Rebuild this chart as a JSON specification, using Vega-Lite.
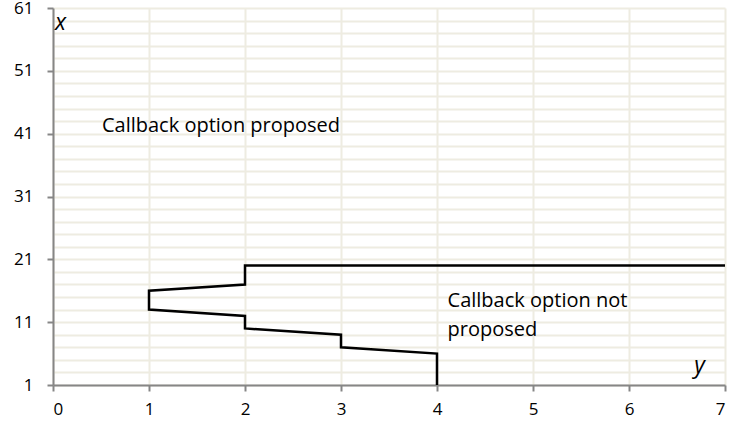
{
  "$schema": "https://vega.github.io/schema/vega-lite/v6.json",
  "width": 672,
  "height": 377,
  "autosize": "none",
  "padding": {"left": 53, "top": 8, "right": 6, "bottom": 40},
  "background": "white",
  "config": {
    "view": {"stroke": null},
    "font": "Open Sans",
    "axis": {
      "labelFont": "Open Sans",
      "labelFontSize": 17,
      "labelColor": "#000000",
      "labelOverlap": false,
      "domainColor": "#868686",
      "domainWidth": 2,
      "tickColor": "#868686",
      "tickWidth": 2,
      "tickSize": 6,
      "gridColor": "#EEECE1",
      "gridWidth": 2,
      "gridOpacity": 1,
      "title": null
    }
  },
  "datasets": {
    "curve": [
      {"ord": 1, "y": 4, "x": 1},
      {"ord": 2, "y": 4, "x": 6},
      {"ord": 3, "y": 3, "x": 7},
      {"ord": 4, "y": 3, "x": 9},
      {"ord": 5, "y": 2, "x": 10},
      {"ord": 6, "y": 2, "x": 12},
      {"ord": 7, "y": 1, "x": 13},
      {"ord": 8, "y": 1, "x": 16},
      {"ord": 9, "y": 2, "x": 17},
      {"ord": 10, "y": 2, "x": 20},
      {"ord": 11, "y": 7, "x": 20}
    ],
    "labels": [
      {"y": 0.51, "x": 42.2, "label": "Callback option proposed"},
      {"y": 4.11, "x": 14.3, "label": "Callback option not"},
      {"y": 4.11, "x": 9.8, "label": "proposed"}
    ],
    "axisnames": [
      {"y": 0.02, "x": 58.6, "label": "x"},
      {"y": 6.68, "x": 4.1, "label": "y"}
    ]
  },
  "encoding": {
    "x": {
      "field": "y", "type": "quantitative",
      "scale": {"domain": [0, 7], "nice": false, "zero": false},
      "axis": {"values": [0, 1, 2, 3, 4, 5, 6, 7], "labelPadding": 10, "format": "d"}
    },
    "y": {
      "field": "x", "type": "quantitative",
      "scale": {"domain": [1, 61], "nice": false, "zero": false},
      "axis": {
        "values": [1, 3, 5, 7, 9, 11, 13, 15, 17, 19, 21, 23, 25, 27, 29, 31, 33, 35, 37, 39, 41, 43, 45, 47, 49, 51, 53, 55, 57, 59, 61],
        "labelExpr": "(datum.value - 1) % 10 == 0 ? datum.label : ''",
        "tickOpacity": {"condition": {"test": "(datum.value - 1) % 10 == 0", "value": 1}, "value": 0},
        "labelPadding": 14,
        "format": "d"
      }
    }
  },
  "layer": [
    {
      "data": {"name": "curve"},
      "mark": {"type": "line", "color": "#000000", "strokeWidth": 2.5, "strokeJoin": "miter", "clip": false},
      "encoding": {
        "order": {"field": "ord", "type": "quantitative"}
      }
    },
    {
      "data": {"name": "labels"},
      "mark": {"type": "text", "align": "left", "baseline": "middle", "fontSize": 20, "font": "Open Sans", "color": "#000000"},
      "encoding": {
        "text": {"field": "label"}
      }
    },
    {
      "data": {"name": "axisnames"},
      "mark": {"type": "text", "align": "left", "baseline": "middle", "fontSize": 23, "fontStyle": "italic", "font": "Open Sans", "color": "#000000"},
      "encoding": {
        "text": {"field": "label"}
      }
    }
  ]
}
